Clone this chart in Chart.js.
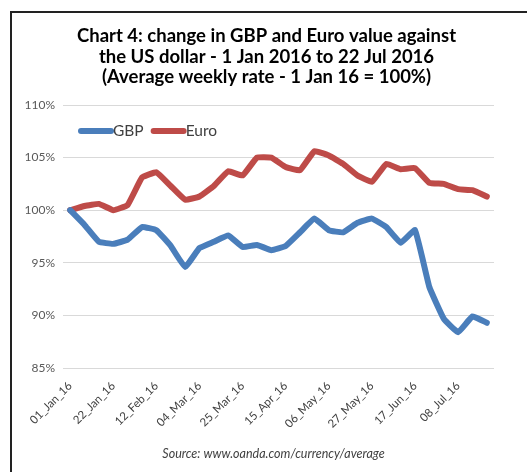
<!DOCTYPE html>
<html>
<head>
<meta charset="utf-8">
<script src="https://cdn.jsdelivr.net/npm/chart.js@4"></script>
<style>
  html, body { margin: 0; padding: 0; background: #fff; overflow: hidden; }
  #frame { position: absolute; left: 10px; top: 11px; width: 700px; height: 700px; border-left: 2px solid #222; border-top: 2px solid #222; }
  #wrap { position: absolute; left: 0; top: 0; width: 527px; height: 472px; }
</style>
</head>
<body>
<div id="frame"></div>
<div id="wrap"><canvas id="fxChart"></canvas></div>
<script>
// weekly dates, 1 Jan 2016 .. 22 Jul 2016
const weeks = [
  '01_Jan_16', '08_Jan_16', '15_Jan_16', '22_Jan_16', '29_Jan_16',
  '05_Feb_16', '12_Feb_16', '19_Feb_16', '26_Feb_16', '04_Mar_16',
  '11_Mar_16', '18_Mar_16', '25_Mar_16', '01_Apr_16', '08_Apr_16',
  '15_Apr_16', '22_Apr_16', '29_Apr_16', '06_May_16', '13_May_16',
  '20_May_16', '27_May_16', '03_Jun_16', '10_Jun_16', '17_Jun_16',
  '24_Jun_16', '01_Jul_16', '08_Jul_16', '15_Jul_16', '22_Jul_16'
];

// index, 1 Jan 16 = 100
const gbp = [100, 98.6, 97.0, 96.8, 97.2, 98.4, 98.1, 96.6, 94.6, 96.4,
             97.0, 97.6, 96.5, 96.7, 96.2, 96.6, 97.9, 99.2, 98.1, 97.9,
             98.8, 99.2, 98.4, 96.9, 98.1, 92.7, 89.7, 88.4, 89.9, 89.3];
const euro = [100, 100.4, 100.6, 100.0, 100.5, 103.1, 103.6, 102.3, 101.0, 101.3,
              102.3, 103.7, 103.3, 105.0, 105.0, 104.1, 103.8, 105.6, 105.2, 104.4,
              103.3, 102.7, 104.4, 103.9, 104.0, 102.6, 102.5, 102.0, 101.9, 101.3];

const yTicks = [85, 90, 95, 100, 105, 110];

const titleLines = ['Chart 4: change in GBP and Euro value against',
                    'the US dollar - 1 Jan 2016 to 22 Jul 2016',
                    '(Average weekly rate - 1 Jan 16 = 100%)'];
const sourceText = 'Source: www.oanda.com/currency/average';

const blue = '#4A7EBB';
const red = '#BE4B48';
const fontFamily = 'Lato, "Open Sans", sans-serif';

// title + source note, drawn a little right of centre like the original
const textBlocks = {
  id: 'textBlocks',
  afterDraw(chart) {
    const ctx = chart.ctx;
    const area = chart.chartArea;
    ctx.save();
    ctx.textAlign = 'center';
    ctx.textBaseline = 'alphabetic';
    ctx.fillStyle = '#000';
    ctx.font = 'bold 18.5px ' + fontFamily;
    titleLines.forEach((line, i) => {
      ctx.fillText(line, chart.width / 2 + 3, area.top - 63.3 + i * 20.8);
    });
    ctx.fillStyle = '#404040';
    ctx.font = 'italic 12.5px ' + fontFamily;
    ctx.fillText(sourceText, chart.width / 2 + 10, area.bottom + 90);
    ctx.restore();
  }
};

// legend drawn inside the plot area, top left
const innerLegend = {
  id: 'innerLegend',
  afterDatasetsDraw(chart) {
    const ctx = chart.ctx;
    const area = chart.chartArea;
    let x = area.left + 18;
    const y = area.top + 26;
    ctx.save();
    ctx.font = '15.5px ' + fontFamily;
    ctx.textBaseline = 'middle';
    chart.data.datasets.forEach(ds => {
      ctx.strokeStyle = ds.borderColor;
      ctx.lineWidth = 6;
      ctx.lineCap = 'round';
      ctx.beginPath();
      ctx.moveTo(x, y);
      ctx.lineTo(x + 30, y);
      ctx.stroke();
      ctx.fillStyle = '#404040';
      ctx.fillText(ds.label, x + 32, y);
      x += 32 + ctx.measureText(ds.label).width + 10;
    });
    ctx.restore();
  }
};

function renderChart() {
  const ctx = document.getElementById('fxChart').getContext('2d');
  new Chart(ctx, {
    type: 'line',
    data: {
      labels: weeks,
      datasets: [{
        label: 'GBP',
        data: gbp,
        borderColor: blue,
        backgroundColor: blue,
        borderWidth: 6,
        pointRadius: 0,
        tension: 0.1,
        borderJoinStyle: 'round',
        borderCapStyle: 'round'
      }, {
        label: 'Euro',
        data: euro,
        borderColor: red,
        backgroundColor: red,
        borderWidth: 6,
        pointRadius: 0,
        tension: 0.1,
        borderJoinStyle: 'round',
        borderCapStyle: 'round'
      }]
    },
    options: {
      responsive: true,
      maintainAspectRatio: false,
      animation: false,
      layout: { padding: { left: 18, right: 33, top: 105, bottom: 24 } },
      plugins: {
        legend: { display: false },
        tooltip: { enabled: false },
        title: { display: false }
      },
      scales: {
        x: {
          offset: true,
          grid: { display: false },
          border: { display: false },
          afterFit: axis => { axis.height = 80; },
          ticks: {
            autoSkip: false,
            maxRotation: 45,
            minRotation: 45,
            color: '#404040',
            font: { family: fontFamily, size: 11.5 },
            callback: function (val, i) { return i % 3 === 0 ? this.getLabelForValue(val) : ''; }
          }
        },
        y: {
          min: 85,
          max: 110,
          afterBuildTicks: axis => { axis.ticks = yTicks.map(v => ({ value: v })); },
          afterFit: axis => { axis.width = 45; },
          grid: { color: '#d9d9d9', lineWidth: 1, drawTicks: false },
          border: { display: false },
          ticks: {
            padding: 8,
            color: '#595959',
            font: { family: fontFamily, size: 12 },
            callback: v => v + '%'
          }
        }
      }
    },
    plugins: [innerLegend, textBlocks]
  });
}

document.addEventListener('DOMContentLoaded', renderChart);
</script>
</body>
</html>
